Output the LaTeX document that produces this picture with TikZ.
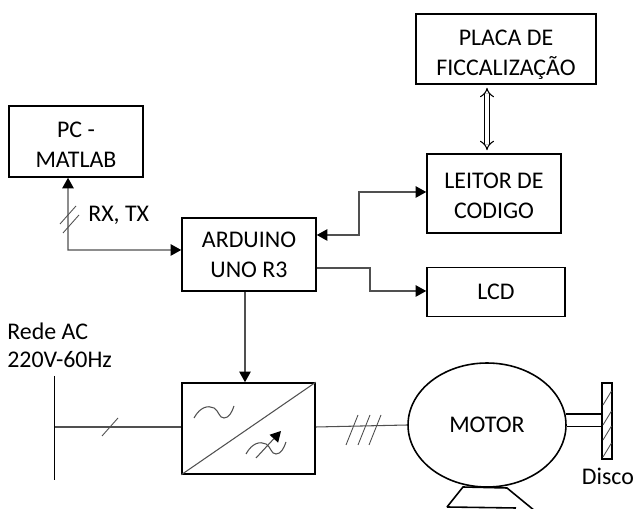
\documentclass[tikz,border=0pt]{standalone}
\usepackage{fontspec}
\setmainfont{Carlito}
\usetikzlibrary{
	arrows.meta,
	shapes.geometric
}
\definecolor{wirecolor}{HTML}{505050}
\tikzset{
	block/.style = {draw, line width = 0.9pt, align = center, inner sep = 0pt, font = \fontsize{13.6}{17}\selectfont},
	label/.style = {inner sep = 0pt, font = \fontsize{13.6}{17}\selectfont},
	wire/.style = {color = wirecolor, line width = 0.6pt},
	tick/.style = {wire, line width = 0.5pt},
	tip/.style = {-{Triangle[length = 6pt, width = 6.5pt, color = black]}},
	twotips/.style = {{Triangle[length = 6pt, width = 6.5pt, color = black]}-{Triangle[length = 6pt, width = 6.5pt, color = black]}}
}

\begin{document}
\begin{tikzpicture}[x = 0.02cm, y = -0.02cm]
	\useasboundingbox (0,0) rectangle (633,509);
	
	\node[block, minimum width = 3.6cm, minimum height = 1.4cm, text height = 32.4pt] (placa) at (506,49) {PLACA DE\\FICCALIZAÇÃO};
	\node[block, minimum width = 2.68cm, minimum height = 1.58cm, text height = 28.4pt] (leitor) at (494,193.5) {LEITOR DE\\CODIGO};
	\node[block, minimum width = 2.76cm, minimum height = 0.98cm] (lcd) at (496,292) {LCD};
	\node[block, minimum width = 2.68cm, minimum height = 1.42cm, text height = 29.6pt] (pc) at (76,141.5) {PC -\\MATLAB};
	\node[block, minimum width = 2.68cm, minimum height = 1.46cm] (arduino) at (249,254.5) {ARDUINO\\UNO R3};
	\node[block, minimum width = 2.66cm, minimum height = 1.82cm] (conv) at (248.5,428.5) {};
	\node[block, ellipse, minimum width = 3.16cm, minimum height = 2.48cm] (motor) at (487,425) {MOTOR};
	\node[block, minimum width = 0.2cm, minimum height = 1.52cm] (disc) at (607,421) {};
	
	\node[label, anchor = west] (rxtx) at (88,215) {RX, TX};
	\node[label, anchor = west] (rede) at (7,331) {Rede AC};
	\node[label, anchor = west] (volt) at (7,360) {220V-60Hz};
	\node[label] (disco) at (608,476) {Disco};
	
	\coordinate (busa) at (54,376);
	\coordinate (busb) at (54,480);
	\coordinate (busc) at (54,427);
	
	% motor base
	\draw[block] (447,507) -- (463,487) -- (507,488) -- (535,511);
	\draw[block] (447,507) -- (516,508);
	
	% connectors
	\draw[wire, twotips] ([xshift = -0.16cm]pc.south) -- (68,250) -- (arduino.west |- 0,250);
	\draw[wire, twotips] (arduino.east |- 0,235) -- (359,235) -- (359,192) -- (leitor.west |- 0,192);
	\draw[wire, tip] (arduino.east |- 0,268) -- (370,268) -- (370,291) -- (lcd.west |- 0,291);
	\draw[wire, tip] (arduino.south -| 245,0) -- (conv.north -| 245,0);
	\draw[black, line width = 0.6pt, double, double distance = 2.2pt, {Implies[length = 4pt]}-{Implies[length = 4pt]}] ([xshift = -0.38cm, yshift = -0.06cm]placa.south) -- ([xshift = -0.14cm, yshift = 0.06cm]leitor.north);
	\draw[wire] (conv.east |- 0,427) -- (motor.west);
	\draw[wire] (busc) -- (conv.west |- busc);
	\draw[black, line width = 0.5pt] (busa) -- (busb);
	
	% slashes
	\draw[tick] (60,224) -- (76,206);
	\draw[tick] (63,233) -- (79,215);
	\draw[tick] (102,436) -- (118,418);
	\foreach \shiftx in {346,358,369}
		\draw[tick] (\shiftx,445) -- (\shiftx+12,415);
	
	% converter symbols
	\draw[wire] (conv.south west) -- (conv.north east);
	\draw[wire] (194,418) .. controls (200,407) and (208,405) .. (214,408) .. controls (219,411) and (219,418) .. (224,418) .. controls (229,418) and (232,412) .. (234,406);
	\draw[wire] (246,454) .. controls (252,443) and (260,441) .. (266,444) .. controls (271,447) and (271,454) .. (276,454) .. controls (281,454) and (284,448) .. (286,442);
	\draw[wire, tip] (256,458) -- (281,431);
	
	% shaft and disc
	\draw[block] (motor.8) -- (motor.8 -| disc.west);
	\draw[block] (motor.-1) -- (motor.-1 -| disc.west);
	\foreach \hatchy in {405,425,440,457}
		\draw[tick] (603,\hatchy) -- (611.5,\hatchy-14);
\end{tikzpicture}
\end{document}
